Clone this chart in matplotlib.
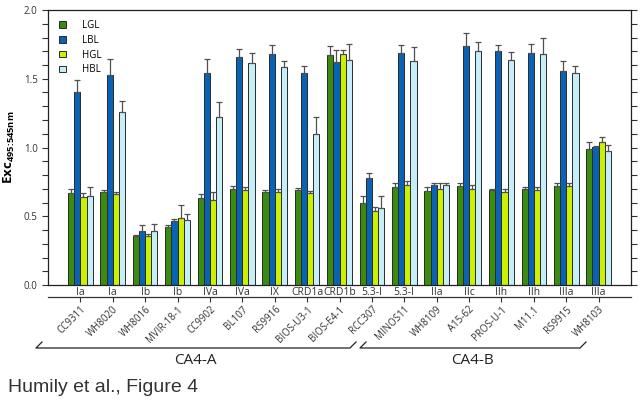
import matplotlib
matplotlib.use("Agg")
import matplotlib.pyplot as plt
import numpy as np
from matplotlib.patches import Patch
from matplotlib.lines import Line2D

# strains, clade / subclade labels
strains = ['CC9311', 'WH8020', 'WH8016', 'MVIR-18-1', 'CC9902', 'BL107', 'RS9916',
           'BIOS-U3-1', 'BIOS-E4-1', 'RCC307', 'MINOS11', 'WH8109', 'A15-62',
           'PROS-U-1', 'M11.1', 'RS9915', 'WH8103']
clades = ['Ia', 'Ia', 'Ib', 'Ib', 'IVa', 'IVa', 'IX', 'CRD1a', 'CRD1b', '5.3-I', '5.3-I',
          'IIa', 'IIc', 'IIh', 'IIh', 'IIIa', 'IIIa']

# Exc 495:545nm ratio, 4 light conditions
lgl = [0.67, 0.675, 0.36, 0.42, 0.63, 0.695, 0.675, 0.69, 1.675, 0.60, 0.71,
       0.685, 0.72, 0.69, 0.70, 0.72, 0.99]
lgl_err = [0.025, 0.015, 0.005, 0.015, 0.03, 0.025, 0.015, 0.015, 0.065, 0.05, 0.03,
           0.03, 0.025, 0.01, 0.015, 0.025, 0.05]
lbl = [1.405, 1.525, 0.39, 0.465, 1.54, 1.655, 1.68, 1.545, 1.625, 0.775, 1.69,
       0.725, 1.74, 1.705, 1.685, 1.555, 1.005]
lbl_err = [0.085, 0.12, 0.045, 0.015, 0.10, 0.06, 0.065, 0.05, 0.085, 0.04, 0.055,
           0.02, 0.09, 0.04, 0.065, 0.075, 0.005]
hgl = [0.64, 0.66, 0.36, 0.49, 0.615, 0.69, 0.675, 0.67, 1.68, 0.535, 0.725,
       0.70, 0.70, 0.68, 0.69, 0.72, 1.04]
hgl_err = [0.027, 0.017, 0.01, 0.09, 0.06, 0.025, 0.02, 0.015, 0.03, 0.035, 0.035,
           0.045, 0.025, 0.015, 0.025, 0.025, 0.04]
hbl = [0.645, 1.26, 0.39, 0.47, 1.22, 1.615, 1.585, 1.095, 1.64, 0.56, 1.63,
       0.725, 1.70, 1.635, 1.68, 1.545, 0.975]
hbl_err = [0.07, 0.075, 0.055, 0.05, 0.11, 0.075, 0.045, 0.13, 0.115, 0.09, 0.10,
           0.015, 0.065, 0.06, 0.115, 0.05, 0.04]

series = [('LGL', lgl, lgl_err, '#3b8c0e'),
          ('LBL', lbl, lbl_err, '#0a62b4'),
          ('HGL', hgl, hgl_err, '#ccf000'),
          ('HBL', hbl, hbl_err, '#c6eef9')]

plt.rcParams['font.family'] = ['Open Sans', 'DejaVu Sans']
plt.rcParams['mathtext.fontset'] = 'custom'
plt.rcParams['mathtext.bf'] = 'Open Sans:bold'
plt.rcParams['mathtext.rm'] = 'Open Sans'

W, H = 644, 405
fig = plt.figure(figsize=(W / 100, H / 100), dpi=100)
# axes box in pixels: left 48, right 631, top 10, bottom 285
ax = fig.add_axes([48 / W, (H - 285) / H, (631 - 48) / W, 275 / H])

x = np.arange(len(strains))
w = 0.19
for i, (name, vals, errs, col) in enumerate(series):
    ax.bar(x + (i - 1.5) * w, vals, w, color=col, edgecolor='#2a2a2a', linewidth=0.7,
           yerr=[np.zeros(len(errs)), errs], capsize=2.2,
           error_kw=dict(ecolor='#505050', elinewidth=0.9, capthick=0.9),
           label=name, zorder=2)

ax.set_xlim(-1, 17)
ax.set_ylim(0, 2.0)
ax.set_yticks(np.arange(0, 2.01, 0.5))
ax.set_yticks(np.arange(0, 2.01, 0.1), minor=True)
ax.yaxis.set_major_formatter(plt.FormatStrFormatter('%.1f'))
ax.tick_params(axis='y', which='both', direction='out', length=4, width=0.8,
               labelsize=7, right=True, color='#333333', labelcolor='#333333')
ax.set_xticks(x)
ax.set_xticklabels(clades, fontsize=7.5, color='#333333')
ax.tick_params(axis='x', length=0, pad=1.5)
for s in ax.spines.values():
    s.set_linewidth(0.9)
    s.set_color('#222222')

ax.set_ylabel(r'Exc$_{\mathbf{495\!:\!545nm}}$', fontsize=9.5, fontweight='bold', labelpad=5)

# strain names on a second axis line under the clade labels
sec = ax.secondary_xaxis(-12 / 275)
sec.set_xticks(x)
sec.set_xticklabels(strains, rotation=45, ha='right', rotation_mode='anchor',
                    fontsize=7, color='#333333')
sec.tick_params(axis='x', direction='out', length=3.5, width=0.8, pad=1.5, color='#333333')
sec.spines['bottom'].set_linewidth(0.9)
sec.spines['bottom'].set_color('#333333')

handles = [Patch(facecolor=c, edgecolor='#2a2a2a', linewidth=0.7) for _, _, _, c in series]
ax.legend(handles, [s[0] for s in series], loc='upper left', bbox_to_anchor=(0.004, 0.995),
          frameon=False, fontsize=7, handlelength=0.75, handleheight=0.65,
          handletextpad=1.6, labelspacing=0.38)


def px(xp, yp):
    return xp / W, 1 - yp / H


# CA4-A / CA4-B brackets
for x0, x1 in [(36, 350), (360, 580)]:
    pts = [px(x0 + 6, 342), px(x0, 348), px(x1, 348), px(x1 + 6, 342)]
    fig.add_artist(Line2D([p[0] for p in pts], [p[1] for p in pts],
                          transform=fig.transFigure, color='#222222', lw=0.9))
fig.text(*px(195, 360), 'CA4-A', ha='center', va='center', fontsize=11, color='#222222')
fig.text(*px(473, 360), 'CA4-B', ha='center', va='center', fontsize=11, color='#222222')

fig.text(*px(8, 388), 'Humily et al., Figure 4', ha='left', va='center',
         fontsize=14, family=['Liberation Sans', 'DejaVu Sans'], color='#333333')

fig.savefig('out.png', dpi=100)
